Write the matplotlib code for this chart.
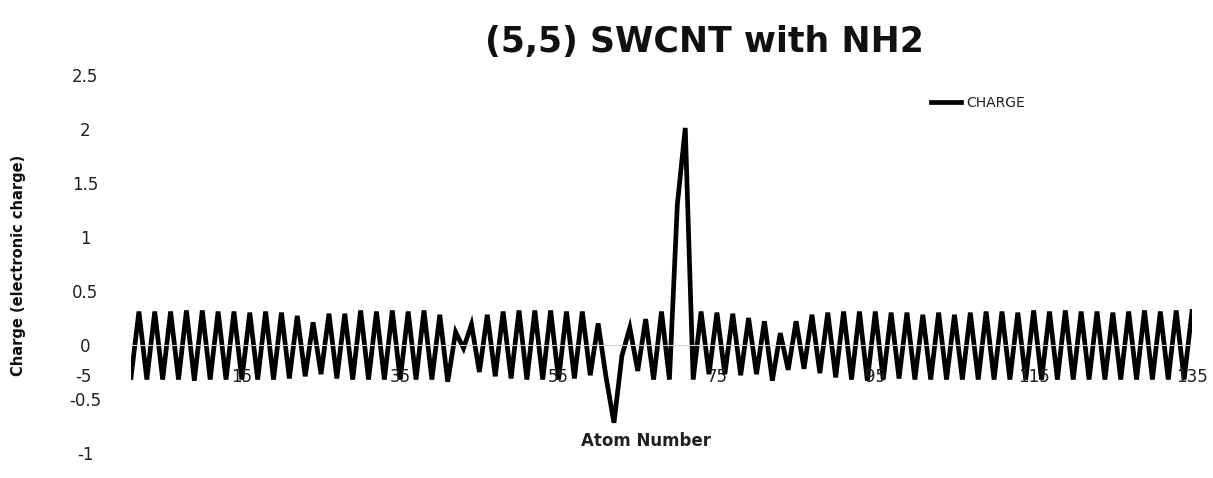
import matplotlib
matplotlib.use("Agg")
import matplotlib.pyplot as plt
import numpy as np

# ---- data ----
atoms = list(range(1, 136))
charge = [
    -0.30, 0.31, -0.32, 0.31, -0.32, 0.31, -0.32, 0.32, -0.33, 0.32,
    -0.32, 0.31, -0.32, 0.31, -0.32, 0.30, -0.32, 0.31, -0.32, 0.30,
    -0.31, 0.27, -0.29, 0.21, -0.27, 0.29, -0.31, 0.29, -0.32, 0.32,
    -0.32, 0.31, -0.32, 0.32, -0.32, 0.31, -0.32, 0.32, -0.32, 0.28,
    -0.34, 0.12, -0.03, 0.19, -0.25, 0.28, -0.29, 0.31, -0.31, 0.32,
    -0.32, 0.32, -0.32, 0.32, -0.32, 0.31, -0.31, 0.31, -0.28, 0.20,
    -0.30, -0.72, -0.10, 0.16, -0.24, 0.24, -0.32, 0.31, -0.32, 1.30,
    2.01, -0.32, 0.31, -0.27, 0.30, -0.27, 0.29, -0.28, 0.25, -0.27,
    0.22, -0.33, 0.11, -0.23, 0.22, -0.22, 0.28, -0.26, 0.30, -0.30,
    0.31, -0.32, 0.31, -0.33, 0.31, -0.32, 0.30, -0.31, 0.30, -0.32,
    0.28, -0.32, 0.30, -0.32, 0.28, -0.32, 0.30, -0.32, 0.31, -0.32,
    0.31, -0.32, 0.30, -0.32, 0.32, -0.32, 0.31, -0.32, 0.32, -0.32,
    0.31, -0.32, 0.31, -0.32, 0.30, -0.32, 0.31, -0.32, 0.32, -0.32,
    0.31, -0.32, 0.32, -0.32, 0.31,
]
x_tick_values = [-5, 15, 35, 55, 75, 95, 115, 135]
y_tick_values = [-1, -0.5, 0, 0.5, 1, 1.5, 2, 2.5]
y_tick_labels = ["-1", "-0.5", "0", "0.5", "1", "1.5", "2", "2.5"]

W, H = 1213, 478
fig = plt.figure(figsize=(W / 100, H / 100), dpi=100)
left_px, right_px = 131, 1192
top_px, bot_px = 75, 453
ax = fig.add_axes([left_px / W, (H - bot_px) / H,
                   (right_px - left_px) / W, (bot_px - top_px) / H])
ax.set_xlim(1, 135)
ax.set_ylim(-1, 2.5)

ax.plot(atoms, charge, color="black", lw=3.4, solid_joinstyle="miter",
        label="CHARGE", zorder=3)
ax.axhline(0, color="#d0d0d0", lw=0.8, zorder=4)

for s in ax.spines.values():
    s.set_visible(False)
ax.set_xticks([])
ax.set_yticks(y_tick_values)
ax.set_yticklabels(y_tick_labels)
ax.tick_params(axis="y", length=0, pad=33, labelsize=12, labelcolor="#202020")
for lbl in ax.get_yticklabels():
    lbl.set_horizontalalignment("center")

for v in x_tick_values:
    ax.text(v, -0.30, str(v), ha="center", va="center", fontsize=12,
            color="#202020", clip_on=False, zorder=5)

fig.text(704 / W, 1 - 42 / H, "(5,5) SWCNT with NH2", ha="center", va="center",
         fontsize=25, fontweight="bold", color="#111111")
fig.text(646 / W, 1 - 441 / H, "Atom Number", ha="center", va="center",
         fontsize=12, fontweight="bold", color="#202020")
fig.text(19 / W, 1 - 265 / H, "Charge (electronic charge)", ha="center",
         va="center", rotation=90, fontsize=10.5, fontweight="bold",
         family=["Liberation Sans Narrow", "DejaVu Sans"], color="#111111")

leg = ax.legend(loc="center left", bbox_to_anchor=(918 / W, 1 - 103 / H),
                bbox_transform=fig.transFigure, frameon=False, fontsize=10,
                handlelength=2.2, handletextpad=0.35)
for t in leg.get_texts():
    t.set_color("#202020")

fig.savefig("out.png", dpi=100)
